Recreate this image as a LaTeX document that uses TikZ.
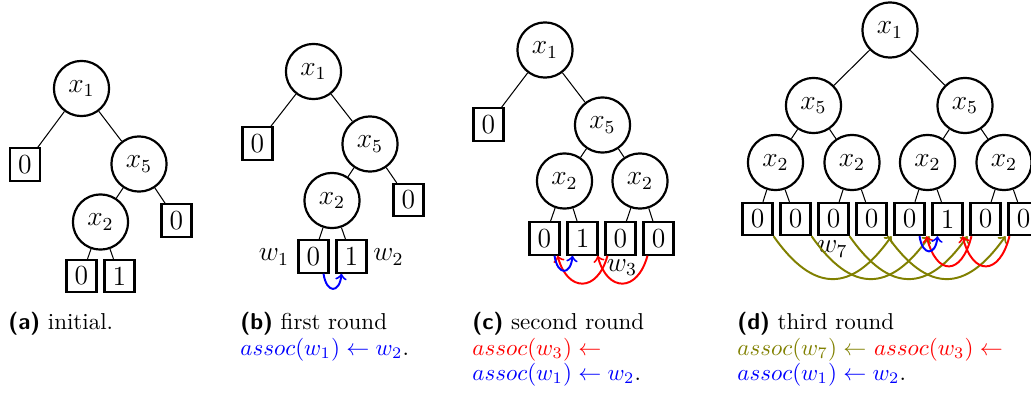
\documentclass[tikz,border=0pt]{standalone}
\usetikzlibrary{calc}
\definecolor{myblue}{RGB}{0,0,255}
\definecolor{myred}{RGB}{255,0,0}
\definecolor{myolive}{RGB}{128,128,0}
\begin{document}
\begin{tikzpicture}[x=0.4348pt,y=-0.4348pt,
  vnode/.style={circle,draw,line width=0.95pt,minimum size=24pt,inner sep=0pt,font=\fontsize{12pt}{14pt}\selectfont},
  leaf/.style={rectangle,draw,line width=0.95pt,minimum width=13pt,minimum height=14pt,inner sep=0pt,font=\fontsize{12pt}{14pt}\selectfont},
  edgeline/.style={line width=0.45pt},
  wlbl/.style={inner sep=0pt,font=\fontsize{11.5pt}{13pt}\selectfont},
  assocarrow/.style={->,line width=0.85pt},
  captext/.style={inner sep=0pt,anchor=base west,font=\fontsize{10pt}{12pt}\selectfont}]
\useasboundingbox (0,0) rectangle (1031,394);

% ---------- (a) ----------
\node[vnode] (a1) at (81.5,88.5) {$x_1$};
\node[leaf] (al) at (25,164.5) {0};
\node[vnode] (a5) at (139,164) {$x_5$};
\node[vnode] (a2) at (100.5,222) {$x_2$};
\node[leaf] (ar) at (176.5,220.5) {0};
\node[leaf] (ab0) at (81.5,276) {0};
\node[leaf] (ab1) at (119.5,276) {1};
\draw[edgeline] (a1) -- (al);
\draw[edgeline] (a1) -- (a5);
\draw[edgeline] (a5) -- (a2);
\draw[edgeline] (a5) -- (ar);
\draw[edgeline] (a2) -- (ab0);
\draw[edgeline] (a2) -- (ab1);

% ---------- (b) ----------
\node[vnode] (b1) at (313.5,71.5) {$x_1$};
\node[leaf] (bl) at (257.5,143.5) {0};
\node[vnode] (b5) at (370,144) {$x_5$};
\node[vnode] (b2) at (332,200.5) {$x_2$};
\node[leaf] (br) at (408.5,200) {0};
\node[leaf] (bb0) at (313.5,256.5) {0};
\node[leaf] (bb1) at (351.5,256.5) {1};
\draw[edgeline] (b1) -- (bl);
\draw[edgeline] (b1) -- (b5);
\draw[edgeline] (b5) -- (b2);
\draw[edgeline] (b5) -- (br);
\draw[edgeline] (b2) -- (bb0);
\draw[edgeline] (b2) -- (bb1);
\node[wlbl] (bw1) at (274,257) {$w_1$};
\node[wlbl] (bw2) at (388.5,257) {$w_2$};
\draw[assocarrow,myblue] ($(bb0.south)+(10,0)$) .. controls +(3,20) and +(-2,20) .. ($(bb1.south)+(-10,0)$);

% ---------- (c) ----------
\node[vnode] (c1) at (545,50) {$x_1$};
\node[leaf] (cl) at (488.5,124.5) {0};
\node[vnode] (c5) at (602.5,125) {$x_5$};
\node[vnode] (c2a) at (564.5,181) {$x_2$};
\node[vnode] (c2b) at (640,181) {$x_2$};
\node[leaf] (cb1) at (544.5,238.5) {0};
\node[leaf] (cb2) at (582.5,238.5) {1};
\node[leaf] (cb3) at (620.5,238.5) {0};
\node[leaf] (cb4) at (658.5,238.5) {0};
\draw[edgeline] (c1) -- (cl);
\draw[edgeline] (c1) -- (c5);
\draw[edgeline] (c5) -- (c2a);
\draw[edgeline] (c5) -- (c2b);
\draw[edgeline] (c2a) -- (cb1);
\draw[edgeline] (c2a) -- (cb2);
\draw[edgeline] (c2b) -- (cb3);
\draw[edgeline] (c2b) -- (cb4);
\node[wlbl] (cw3) at (622,267.5) {$w_3$};
\draw[assocarrow,myred] ($(cb4.south west)+(5,0)$) .. controls +(-10,37) and +(10,37) .. ($(cb2.south east)+(-1,0)$);
\draw[assocarrow,myred] ($(cb3.south west)+(3,0)$) .. controls +(-10,37) and +(10,37) .. ($(cb1.south east)+(-3,0)$);
\draw[assocarrow,myblue] ($(cb1.south)+(10,0)$) .. controls +(3,20) and +(-2,20) .. ($(cb2.south)+(-10,0)$);

% ---------- (d) ----------
\node[vnode] (d1) at (890,30) {$x_1$};
\node[vnode] (d5a) at (813.5,105.5) {$x_5$};
\node[vnode] (d5b) at (965,105.5) {$x_5$};
\node[vnode] (d2a) at (775.5,162.5) {$x_2$};
\node[vnode] (d2b) at (852,162.5) {$x_2$};
\node[vnode] (d2c) at (927.5,162.5) {$x_2$};
\node[vnode] (d2d) at (1004,162.5) {$x_2$};
\node[leaf] (db1) at (757.5,219) {0};
\node[leaf] (db2) at (795.5,219) {0};
\node[leaf] (db3) at (833.5,219) {0};
\node[leaf] (db4) at (871.5,219) {0};
\node[leaf] (db5) at (909.5,219) {0};
\node[leaf] (db6) at (947.5,219) {1};
\node[leaf] (db7) at (985.5,219) {0};
\node[leaf] (db8) at (1023.5,219) {0};
\draw[edgeline] (d1) -- (d5a);
\draw[edgeline] (d1) -- (d5b);
\draw[edgeline] (d5a) -- (d2a);
\draw[edgeline] (d5a) -- (d2b);
\draw[edgeline] (d5b) -- (d2c);
\draw[edgeline] (d5b) -- (d2d);
\draw[edgeline] (d2a) -- (db1);
\draw[edgeline] (d2a) -- (db2);
\draw[edgeline] (d2b) -- (db3);
\draw[edgeline] (d2b) -- (db4);
\draw[edgeline] (d2c) -- (db5);
\draw[edgeline] (d2c) -- (db6);
\draw[edgeline] (d2d) -- (db7);
\draw[edgeline] (d2d) -- (db8);
\node[wlbl] (dw7) at (832.5,249) {$w_7$};
\draw[assocarrow,myolive] (db1.south east) .. controls +(40,57) and +(-40,57) .. ($(db5.south west)+(-2,0)$);
\draw[assocarrow,myolive] (db2.south east) .. controls +(40,57) and +(-40,57) .. ($(db6.south west)+(-2,0)$);
\draw[assocarrow,myolive] (db3.south east) .. controls +(40,57) and +(-40,57) .. ($(db7.south west)+(-2,0)$);
\draw[assocarrow,myolive] (db4.south east) .. controls +(40,57) and +(-40,57) .. ($(db8.south west)+(-2,0)$);
\draw[assocarrow,myred] ($(db7.south west)+(2,0)$) .. controls +(-10,40) and +(10,40) .. ($(db5.south east)+(1,0)$);
\draw[assocarrow,myred] ($(db8.south west)+(2,0)$) .. controls +(-10,40) and +(10,40) .. ($(db6.south east)+(-1,0)$);
\draw[assocarrow,myblue] ($(db5.south)+(10,0)$) .. controls +(3,20) and +(-2,20) .. ($(db6.south)+(-10,0)$);

% ---------- captions ----------
\node[captext] (capa) at (8,329) {{\sffamily\bfseries (a)} initial.};
\node[captext] (capb) at (240,329) {{\sffamily\bfseries (b)} first round};
\node[captext] (capb2) at (240,355) {\color{myblue}$assoc(w_1)\leftarrow w_2$\color{black}.};
\node[captext] (capc) at (472,329) {{\sffamily\bfseries (c)} second round};
\node[captext] (capc2) at (472,355) {\color{myred}$assoc(w_3)\leftarrow$};
\node[captext] (capc3) at (472,380) {\color{myblue}$assoc(w_1)\leftarrow w_2$\color{black}.};
\node[captext] (capd) at (737,329) {{\sffamily\bfseries (d)} third round};
\node[captext] (capd2) at (737,355) {\color{myolive}$assoc(w_7)\leftarrow$ \color{myred}$assoc(w_3)\leftarrow$};
\node[captext] (capd3) at (737,380) {\color{myblue}$assoc(w_1)\leftarrow w_2$\color{black}.};
\end{tikzpicture}
\end{document}
